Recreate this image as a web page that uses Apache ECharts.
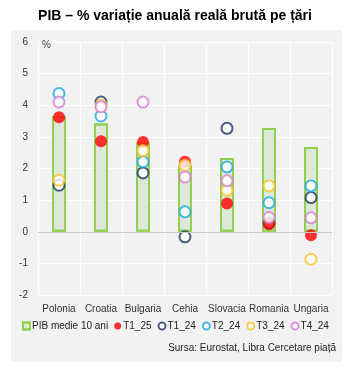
<!DOCTYPE html>
<html><head><meta charset="utf-8">
<script src="https://cdn.jsdelivr.net/npm/echarts@6/dist/echarts.min.js"></script>
<style>html,body{margin:0;padding:0;background:#fff}#c{width:350px;height:371px}</style>
</head><body><div id="c"></div>
<script>
const categories = ['Polonia','Croatia','Bulgaria','Cehia','Slovacia','Romania','Ungaria'];
const pibMedie = [3.66, 3.42, 2.84, 2.1, 2.33, 3.28, 2.68];
const t1_25 = [3.62, 2.86, 2.84, 2.21, 0.89, 0.24, -0.11];
const t1_24 = [1.47, 4.1, 1.86, -0.16, 3.27, 0.28, 1.08];
const t2_24 = [4.37, 3.66, 2.21, 0.63, 2.05, 0.92, 1.45];
const t3_24 = [1.63, 4.0, 2.56, 2.1, 1.31, 1.45, -0.87];
const t4_24 = [4.1, 3.95, 4.1, 1.73, 1.61, 0.45, 0.44];
const yTicks = {min: -2, max: 6, interval: 1};

const chart = echarts.init(document.getElementById('c'), null, {renderer: 'canvas'});
const ring = (name, color, data) => ({
  name, type: 'scatter', data, symbol: 'emptyCircle', symbolSize: 11,
  itemStyle: {color: color, borderColor: color, borderWidth: 2}, z: 3
});
chart.setOption({
  animation: false,
  title: {text: 'PIB – % variație anuală reală brută pe țări', left: 'center', top: 4,
    textStyle: {fontFamily: 'Liberation Sans', fontSize: 14, fontWeight: 'bold', color: '#000'}},
  graphic: [
    {type: 'rect', left: 11, top: 30, shape: {width: 331, height: 332}, style: {fill: '#f2f2f2'}, z: -10, silent: true},
    {type: 'text', left: 42, top: 40, style: {text: '%', font: '10px Liberation Sans', fill: '#444'}, z: 10},
    {type: 'text', right: 14, top: 343, style: {text: 'Sursa: Eurostat, Libra Cercetare piață', font: '10px Liberation Sans', fill: '#222'}}
  ],
  grid: {left: 38, right: 18, top: 42, bottom: 76, show: false},
  xAxis: {type: 'category', data: categories,
    axisLine: {show: false}, axisTick: {show: false},
    axisLabel: {color: '#333', fontFamily: 'Liberation Sans', fontSize: 10, margin: 9, interval: 0},
    splitLine: {show: true, interval: 0, lineStyle: {color: '#ffffff', width: 1}}},
  yAxis: {type: 'value', min: yTicks.min, max: yTicks.max, interval: yTicks.interval,
    axisLine: {show: false}, axisTick: {show: false},
    axisLabel: {color: '#333', fontFamily: 'Liberation Sans', fontSize: 10, margin: 10},
    splitLine: {lineStyle: {color: '#ffffff', width: 1}}},
  legend: {top: 321, left: 22, width: 330, padding: 0, itemWidth: 7, itemHeight: 7, itemGap: 6,
    textStyle: {fontFamily: 'Liberation Sans', fontSize: 10, color: '#222', padding: [0,0,0,-3]},
    data: [
      {name: 'PIB medie 10 ani', icon: 'rect'},
      {name: 'T1_25', icon: 'circle'},
      {name: 'T1_24', icon: 'emptyCircle'},
      {name: 'T2_24', icon: 'emptyCircle'},
      {name: 'T3_24', icon: 'emptyCircle'},
      {name: 'T4_24', icon: 'emptyCircle'}
    ]},
  series: [
    {name: 'PIB medie 10 ani', type: 'bar', data: pibMedie, barWidth: 14,
      itemStyle: {color: '#dfe9d9', borderColor: '#92d050', borderWidth: 2,
        decal: {symbol: 'circle', symbolSize: 0.6, color: 'rgba(140,175,130,0.5)', dashArrayX: [1, 2], dashArrayY: [1, 2], rotation: 0}},
      markLine: {silent: true, symbol: 'none', label: {show: false}, lineStyle: {color: '#c8c8c8', width: 1, type: 'solid'}, data: [{yAxis: 0}]},
      z: 2},
    ring('T1_24', '#1f3864', t1_24),
    {name: 'T1_25', type: 'scatter', data: t1_25, symbol: 'circle', symbolSize: 12,
      itemStyle: {color: '#ff0000'}, z: 3},
    ring('T2_24', '#1fa9e1', t2_24),
    ring('T3_24', '#f7c325', t3_24),
    ring('T4_24', '#d77ed6', t4_24)
  ]
});
</script></body></html>
